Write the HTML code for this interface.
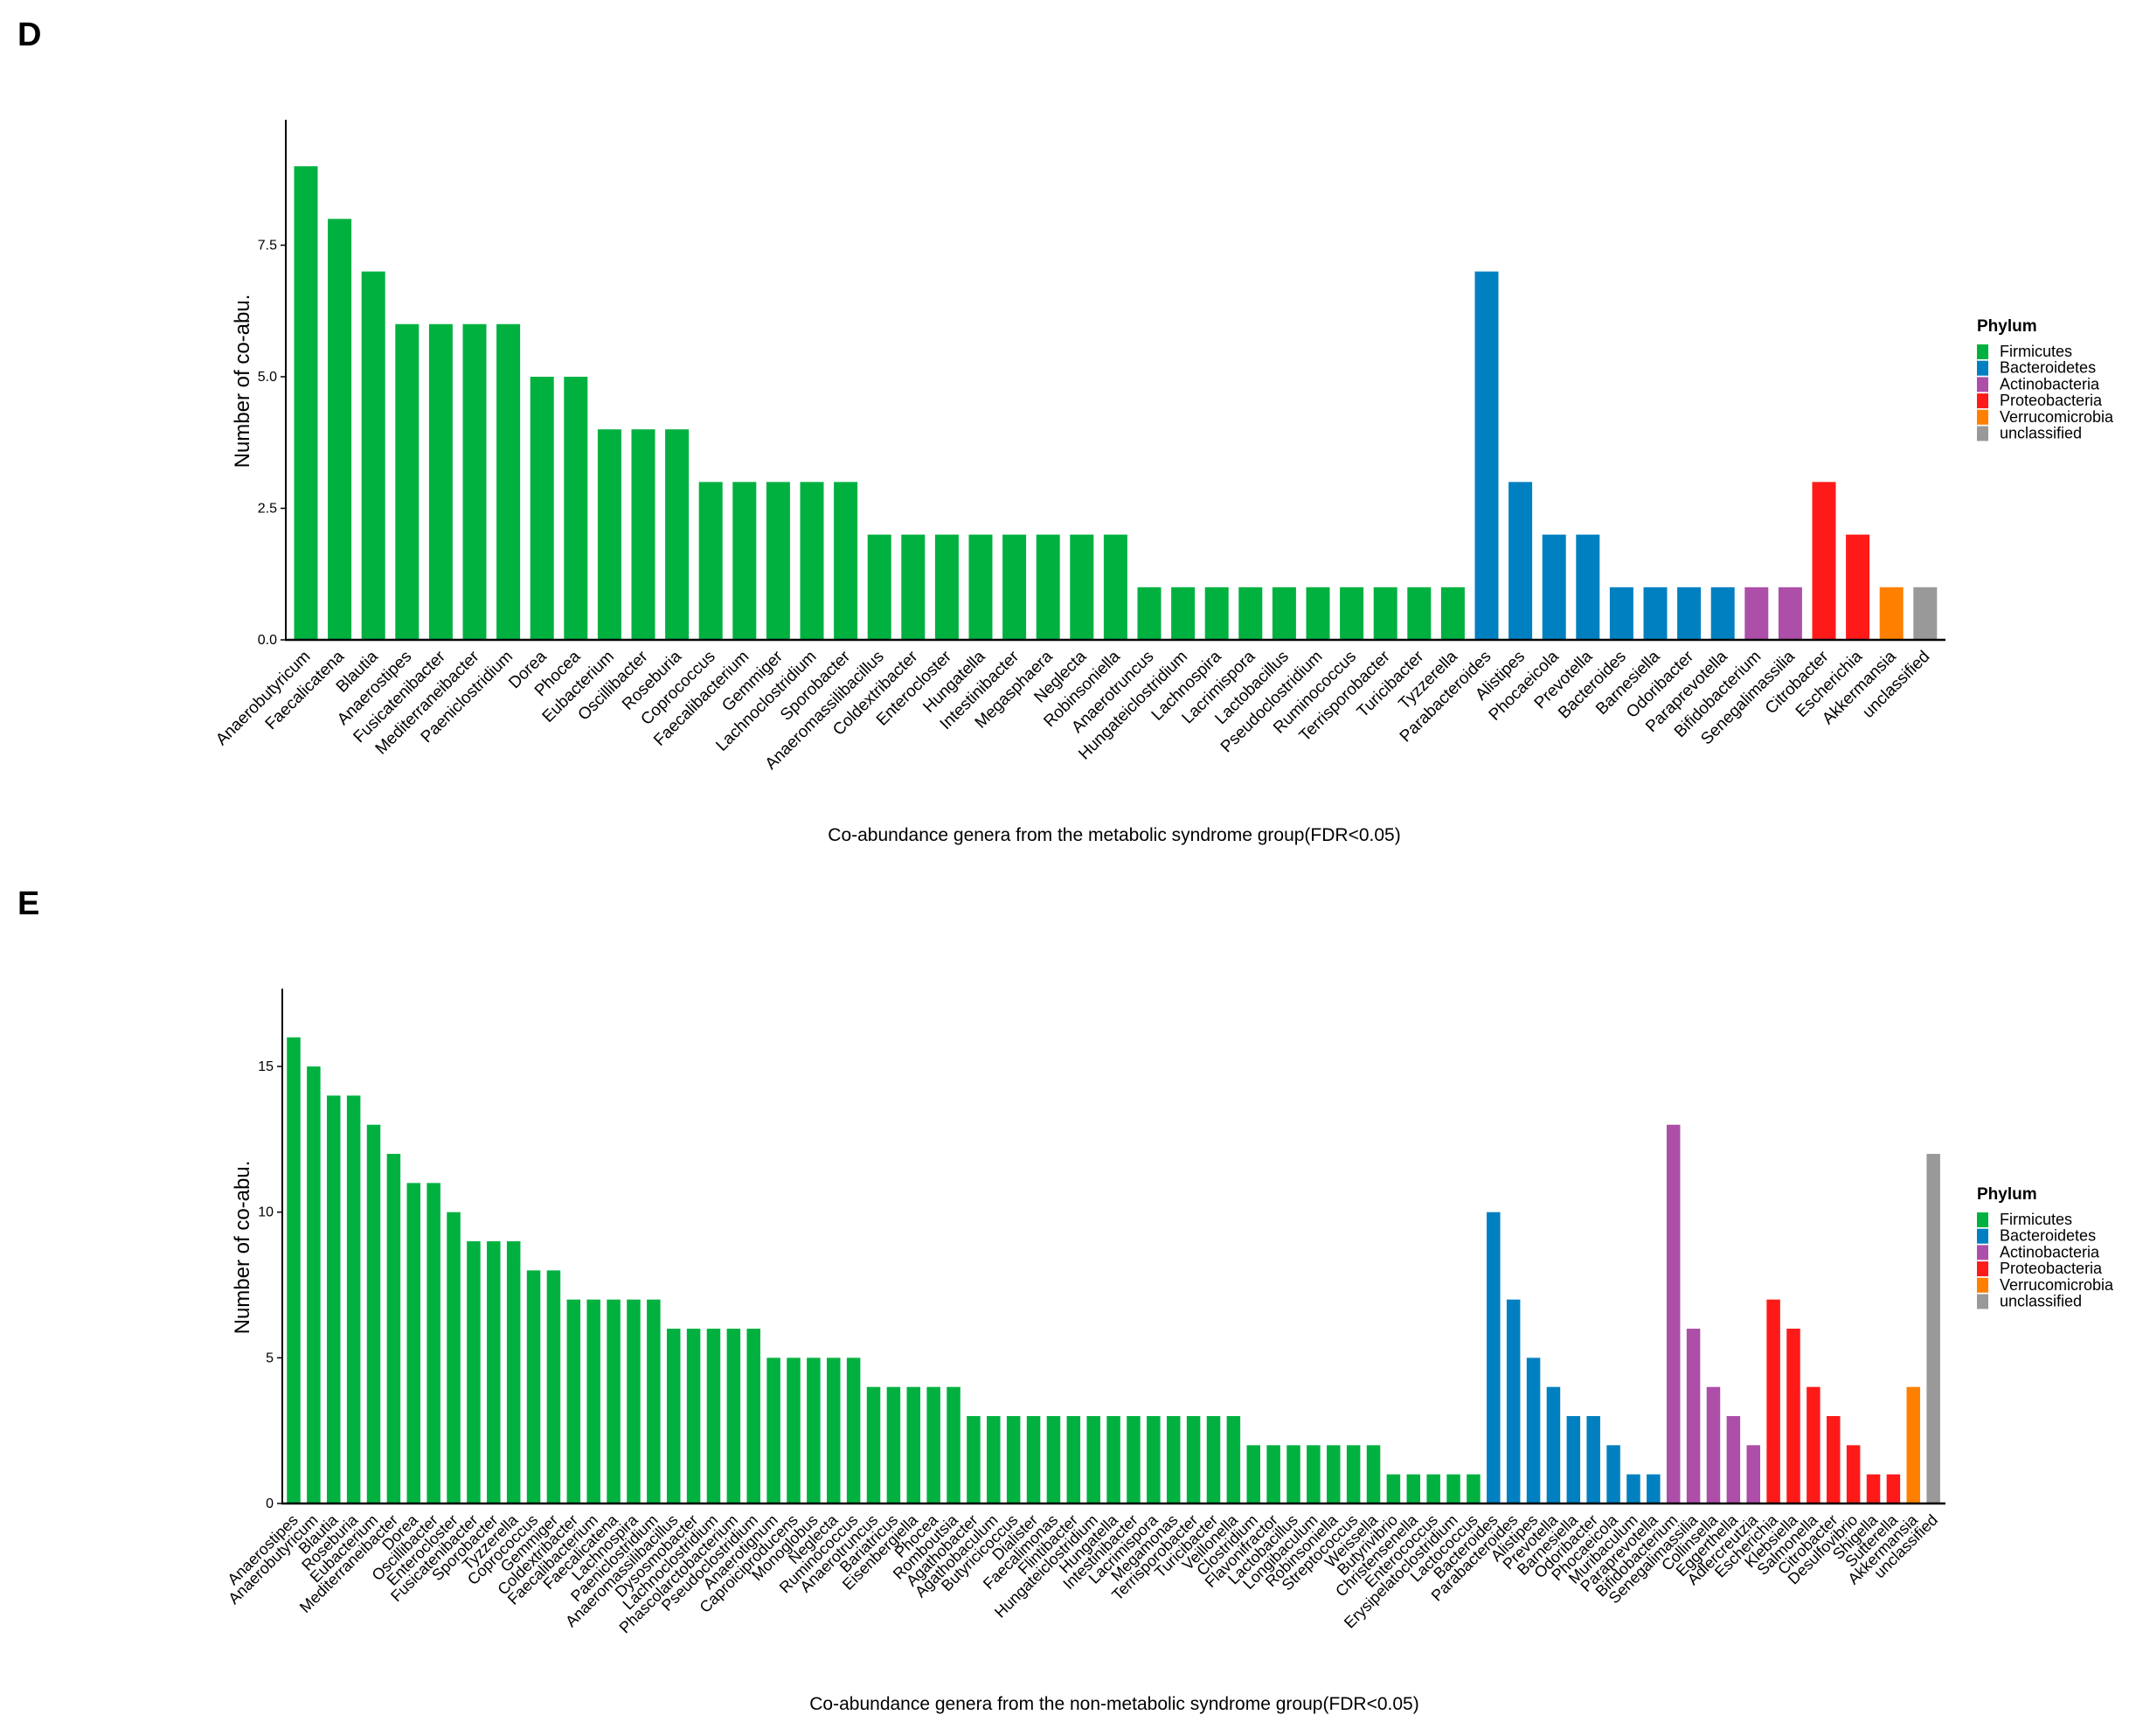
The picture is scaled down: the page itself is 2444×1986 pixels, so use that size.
<!DOCTYPE html>
<html><head><meta charset="utf-8"><style>
html,body{margin:0;padding:0;background:#fff;}
svg{display:block;font-family:"Liberation Sans",Arial,sans-serif;}
</style></head><body>
<svg id="fig" width="2444" height="1986" viewBox="0 0 2444 1986" xmlns="http://www.w3.org/2000/svg">
<rect width="2444" height="1986" fill="#fff"/>
<text x="20" y="52" font-size="38" font-weight="bold">D</text>
<text x="20" y="1046" font-size="38" font-weight="bold">E</text>
<g id="pd"></g>
<g id="pe"></g>
</svg>
<script>
// Panel D data
const dCategories = ["Anaerobutyricum","Faecalicatena","Blautia","Anaerostipes","Fusicatenibacter","Mediterraneibacter","Paeniclostridium","Dorea","Phocea","Eubacterium","Oscillibacter","Roseburia","Coprococcus","Faecalibacterium","Gemmiger","Lachnoclostridium","Sporobacter","Anaeromassilibacillus","Coldextribacter","Enterocloster","Hungatella","Intestinibacter","Megasphaera","Neglecta","Robinsoniella","Anaerotruncus","Hungateiclostridium","Lachnospira","Lacrimispora","Lactobacillus","Pseudoclostridium","Ruminococcus","Terrisporobacter","Turicibacter","Tyzzerella","Parabacteroides","Alistipes","Phocaeicola","Prevotella","Bacteroides","Barnesiella","Odoribacter","Paraprevotella","Bifidobacterium","Senegalimassilia","Citrobacter","Escherichia","Akkermansia","unclassified"];
const dValues = [9,8,7,6,6,6,6,5,5,4,4,4,3,3,3,3,3,2,2,2,2,2,2,2,2,1,1,1,1,1,1,1,1,1,1,7,3,2,2,1,1,1,1,1,1,3,2,1,1];
const dPhyla = ["F","F","F","F","F","F","F","F","F","F","F","F","F","F","F","F","F","F","F","F","F","F","F","F","F","F","F","F","F","F","F","F","F","F","F","B","B","B","B","B","B","B","B","A","A","P","P","V","U"];
const dTicks = [0,2.5,5,7.5];
const dTickLabels = ["0.0","2.5","5.0","7.5"];
// Panel E data
const eCategories = ["Anaerostipes","Anaerobutyricum","Blautia","Roseburia","Eubacterium","Mediterraneibacter","Dorea","Oscillibacter","Enterocloster","Fusicatenibacter","Sporobacter","Tyzzerella","Coprococcus","Gemmiger","Coldextribacter","Faecalibacterium","Faecalicatena","Lachnospira","Paeniclostridium","Anaeromassilibacillus","Dysosmobacter","Lachnoclostridium","Phascolarctobacterium","Pseudoclostridium","Anaerotignum","Caproiciproducens","Monoglobus","Neglecta","Ruminococcus","Anaerotruncus","Bariatricus","Eisenbergiella","Phocea","Romboutsia","Agathobacter","Agathobaculum","Butyricicoccus","Dialister","Faecalimonas","Flintibacter","Hungateiclostridium","Hungatella","Intestinibacter","Lacrimispora","Megamonas","Terrisporobacter","Turicibacter","Veillonella","Clostridium","Flavonifractor","Lactobacillus","Longibaculum","Robinsoniella","Streptococcus","Weissella","Butyrivibrio","Christensenella","Enterococcus","Erysipelatoclostridium","Lactococcus","Bacteroides","Parabacteroides","Alistipes","Prevotella","Barnesiella","Odoribacter","Phocaeicola","Muribaculum","Paraprevotella","Bifidobacterium","Senegalimassilia","Collinsella","Eggerthella","Adlercreutzia","Escherichia","Klebsiella","Salmonella","Citrobacter","Desulfovibrio","Shigella","Sutterella","Akkermansia","unclassified"];
const eValues = [16,15,14,14,13,12,11,11,10,9,9,9,8,8,7,7,7,7,7,6,6,6,6,6,5,5,5,5,5,4,4,4,4,4,3,3,3,3,3,3,3,3,3,3,3,3,3,3,2,2,2,2,2,2,2,1,1,1,1,1,10,7,5,4,3,3,2,1,1,13,6,4,3,2,7,6,4,3,2,1,1,4,12];
const ePhyla = ["F","F","F","F","F","F","F","F","F","F","F","F","F","F","F","F","F","F","F","F","F","F","F","F","F","F","F","F","F","F","F","F","F","F","F","F","F","F","F","F","F","F","F","F","F","F","F","F","F","F","F","F","F","F","F","F","F","F","F","F","B","B","B","B","B","B","B","B","B","A","A","A","A","A","P","P","P","P","P","P","P","V","U"];
const eTicks = [0,5,10,15];
const eTickLabels = ["0","5","10","15"];
const legendKeys = ["F","B","A","P","V","U"];
const legendLabels = ["Firmicutes","Bacteroidetes","Actinobacteria","Proteobacteria","Verrucomicrobia","unclassified"];

const COLORS = {F:"#00b140",B:"#0080c0",A:"#ad4fa8",P:"#ff1a1a",V:"#ff8000",U:"#999999"};
const NS = "http://www.w3.org/2000/svg";
function mk(tag, attrs, parent){const e=document.createElementNS(NS,tag);for(const k in attrs)e.setAttribute(k,attrs[k]);parent.appendChild(e);return e;}

function drawPanel(g, cats, vals, phy, ticks, tickLabels, cfg){
  const xAt = i => cfg.x0 + i*cfg.step;
  const yAt = v => cfg.base - v*cfg.unit;
  cats.forEach((c,i)=>{
    const r = mk('rect',{x:xAt(i)-cfg.bw/2,y:yAt(vals[i]),width:cfg.bw,height:cfg.base-yAt(vals[i]),fill:COLORS[phy[i]]},g);
    
    
    const t = mk('text',{x:xAt(i)+6,y:cfg.base+20,'text-anchor':'end','font-size':cfg.lf,transform:`rotate(-45 ${xAt(i)+6} ${cfg.base+20})`},g);
    t.textContent = c;
    
    
  });
  const ya = mk('line',{x1:cfg.ax,y1:cfg.top,x2:cfg.ax,y2:cfg.base+1,stroke:'#000','stroke-width':2},g);
  
  
  const xa = mk('line',{x1:cfg.ax-1,y1:cfg.base,x2:cfg.right,y2:cfg.base,stroke:'#000','stroke-width':2.5},g);
  
  
  ticks.forEach((v,i)=>{
    mk('line',{x1:cfg.ax-6,y1:yAt(v),x2:cfg.ax,y2:yAt(v),stroke:'#000','stroke-width':1.5},g);
    const t = mk('text',{x:cfg.ax-10,y:yAt(v)+5,'text-anchor':'end','font-size':16},g);
    t.textContent = tickLabels[i];
    
    
  });
  const yt = mk('text',{x:0,y:0,'text-anchor':'middle','font-size':24,transform:`translate(285 ${cfg.ytY}) rotate(-90)`},g);
  yt.textContent = 'Number of co-abu.';
  
  
  const xt = mk('text',{x:1275,y:cfg.xtY,'text-anchor':'middle','font-size':21},g);
  xt.textContent = cfg.xtitle;
  
  
  const lg = mk('g',{},g);
  
  
  const lt = mk('text',{x:2262,y:cfg.legY,'font-size':19,'font-weight':'bold'},lg);
  lt.textContent = 'Phylum';
  
  
  legendKeys.forEach((k,i)=>{
    const y = cfg.legY+15+i*18.7;
    const kr = mk('rect',{x:2262,y:y,width:13,height:17,fill:COLORS[k]},lg);
    
    
    const tx = mk('text',{x:2288,y:y+14,'font-size':18},lg);
    tx.textContent = legendLabels[i];
    
    
  });
}
drawPanel(document.getElementById('pd'), dCategories, dValues, dPhyla, dTicks, dTickLabels,
  {x0:350, step:38.6, bw:27, base:732, unit:60.2, ax:327, top:137, right:2226, lf:19, ytY:436, xtY:962, legY:379,
   xtitle:'Co-abundance genera from the metabolic syndrome group(FDR<0.05)'});
drawPanel(document.getElementById('pe'), eCategories, eValues, ePhyla, eTicks, eTickLabels,
  {x0:336, step:22.88, bw:15.5, base:1720, unit:33.33, ax:323, top:1131, right:2226, lf:18, ytY:1427, xtY:1956, legY:1372,
   xtitle:'Co-abundance genera from the non-metabolic syndrome group(FDR<0.05)'});
</script>
</body></html>
